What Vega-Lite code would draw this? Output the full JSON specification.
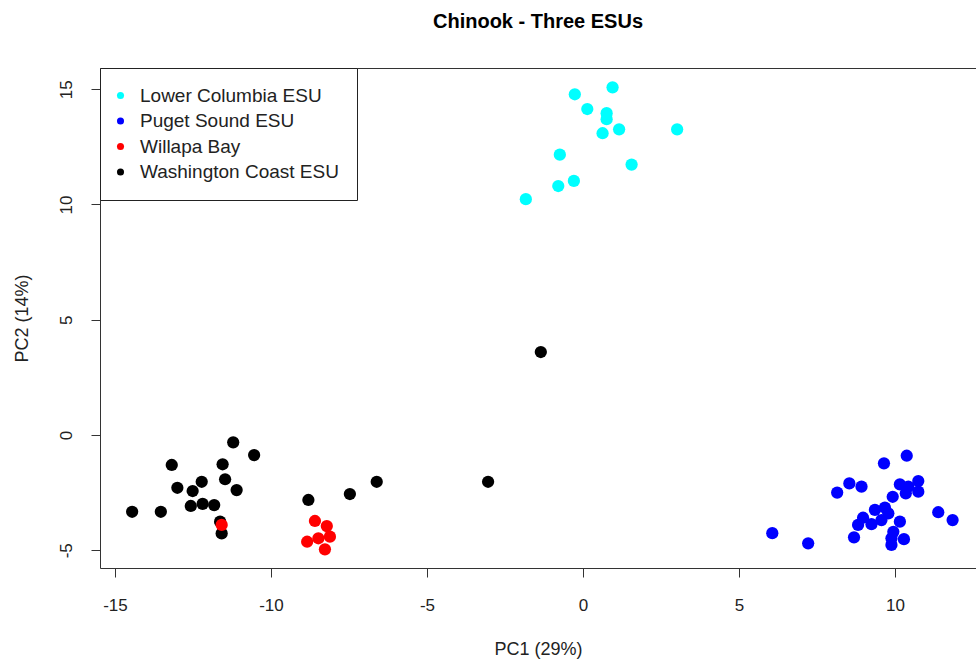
{
  "$schema": "https://vega.github.io/schema/vega-lite/v6.json",
  "autosize": {"type": "none"},
  "width": 876,
  "height": 500,
  "padding": {"left": 100, "top": 68, "right": 0, "bottom": 92},
  "background": "white",
  "config": {
    "view": {"stroke": null},
    "font": "Liberation Sans",
    "axis": {"grid": false, "labelFont": "Liberation Sans", "titleFont": "Liberation Sans", "labelColor": "#222", "titleColor": "#222", "domainColor": "#333", "tickColor": "#333", "titleFontWeight": "normal"}
  },
  "title": {"text": "Chinook - Three ESUs", "fontSize": 20, "fontWeight": "bold", "font": "Liberation Sans", "anchor": "middle", "offset": 36, "color": "#000"},
  "data": {
    "values": [
      {"pc1": -14.45, "pc2": -3.33, "esu": "Washington Coast ESU"},
      {"pc1": -13.53, "pc2": -3.33, "esu": "Washington Coast ESU"},
      {"pc1": -13.18, "pc2": -1.30, "esu": "Washington Coast ESU"},
      {"pc1": -13.00, "pc2": -2.29, "esu": "Washington Coast ESU"},
      {"pc1": -12.57, "pc2": -3.08, "esu": "Washington Coast ESU"},
      {"pc1": -12.51, "pc2": -2.43, "esu": "Washington Coast ESU"},
      {"pc1": -12.22, "pc2": -2.03, "esu": "Washington Coast ESU"},
      {"pc1": -12.19, "pc2": -2.99, "esu": "Washington Coast ESU"},
      {"pc1": -11.82, "pc2": -3.04, "esu": "Washington Coast ESU"},
      {"pc1": -11.55, "pc2": -1.27, "esu": "Washington Coast ESU"},
      {"pc1": -11.47, "pc2": -1.92, "esu": "Washington Coast ESU"},
      {"pc1": -11.21, "pc2": -0.32, "esu": "Washington Coast ESU"},
      {"pc1": -11.10, "pc2": -2.39, "esu": "Washington Coast ESU"},
      {"pc1": -10.54, "pc2": -0.87, "esu": "Washington Coast ESU"},
      {"pc1": -11.63, "pc2": -3.76, "esu": "Washington Coast ESU"},
      {"pc1": -11.58, "pc2": -4.27, "esu": "Washington Coast ESU"},
      {"pc1": -8.80, "pc2": -2.82, "esu": "Washington Coast ESU"},
      {"pc1": -7.47, "pc2": -2.56, "esu": "Washington Coast ESU"},
      {"pc1": -6.61, "pc2": -2.03, "esu": "Washington Coast ESU"},
      {"pc1": -3.04, "pc2": -2.03, "esu": "Washington Coast ESU"},
      {"pc1": -1.35, "pc2": 3.60, "esu": "Washington Coast ESU"},
      {"pc1": -11.58, "pc2": -3.90, "esu": "Willapa Bay"},
      {"pc1": -8.59, "pc2": -3.73, "esu": "Willapa Bay"},
      {"pc1": -8.21, "pc2": -3.95, "esu": "Willapa Bay"},
      {"pc1": -8.11, "pc2": -4.41, "esu": "Willapa Bay"},
      {"pc1": -8.48, "pc2": -4.48, "esu": "Willapa Bay"},
      {"pc1": -8.84, "pc2": -4.63, "esu": "Willapa Bay"},
      {"pc1": -8.27, "pc2": -4.96, "esu": "Willapa Bay"},
      {"pc1": 10.38, "pc2": -0.90, "esu": "Puget Sound ESU"},
      {"pc1": 9.65, "pc2": -1.23, "esu": "Puget Sound ESU"},
      {"pc1": 8.54, "pc2": -2.10, "esu": "Puget Sound ESU"},
      {"pc1": 8.93, "pc2": -2.24, "esu": "Puget Sound ESU"},
      {"pc1": 8.15, "pc2": -2.50, "esu": "Puget Sound ESU"},
      {"pc1": 10.16, "pc2": -2.14, "esu": "Puget Sound ESU"},
      {"pc1": 10.75, "pc2": -2.00, "esu": "Puget Sound ESU"},
      {"pc1": 10.43, "pc2": -2.24, "esu": "Puget Sound ESU"},
      {"pc1": 10.35, "pc2": -2.53, "esu": "Puget Sound ESU"},
      {"pc1": 10.75, "pc2": -2.46, "esu": "Puget Sound ESU"},
      {"pc1": 9.93, "pc2": -2.68, "esu": "Puget Sound ESU"},
      {"pc1": 9.36, "pc2": -3.25, "esu": "Puget Sound ESU"},
      {"pc1": 9.68, "pc2": -3.15, "esu": "Puget Sound ESU"},
      {"pc1": 9.79, "pc2": -3.40, "esu": "Puget Sound ESU"},
      {"pc1": 8.98, "pc2": -3.59, "esu": "Puget Sound ESU"},
      {"pc1": 9.57, "pc2": -3.69, "esu": "Puget Sound ESU"},
      {"pc1": 9.25, "pc2": -3.87, "esu": "Puget Sound ESU"},
      {"pc1": 8.82, "pc2": -3.90, "esu": "Puget Sound ESU"},
      {"pc1": 10.16, "pc2": -3.76, "esu": "Puget Sound ESU"},
      {"pc1": 9.95, "pc2": -4.20, "esu": "Puget Sound ESU"},
      {"pc1": 11.39, "pc2": -3.35, "esu": "Puget Sound ESU"},
      {"pc1": 11.85, "pc2": -3.69, "esu": "Puget Sound ESU"},
      {"pc1": 8.69, "pc2": -4.44, "esu": "Puget Sound ESU"},
      {"pc1": 10.29, "pc2": -4.52, "esu": "Puget Sound ESU"},
      {"pc1": 9.89, "pc2": -4.48, "esu": "Puget Sound ESU"},
      {"pc1": 9.89, "pc2": -4.77, "esu": "Puget Sound ESU"},
      {"pc1": 6.07, "pc2": -4.26, "esu": "Puget Sound ESU"},
      {"pc1": 7.22, "pc2": -4.70, "esu": "Puget Sound ESU"},
      {"pc1": -0.26, "pc2": 14.78, "esu": "Lower Columbia ESU"},
      {"pc1": 0.95, "pc2": 15.08, "esu": "Lower Columbia ESU"},
      {"pc1": 0.14, "pc2": 14.14, "esu": "Lower Columbia ESU"},
      {"pc1": 0.76, "pc2": 13.96, "esu": "Lower Columbia ESU"},
      {"pc1": 0.76, "pc2": 13.70, "esu": "Lower Columbia ESU"},
      {"pc1": 0.63, "pc2": 13.09, "esu": "Lower Columbia ESU"},
      {"pc1": 1.16, "pc2": 13.26, "esu": "Lower Columbia ESU"},
      {"pc1": 3.02, "pc2": 13.26, "esu": "Lower Columbia ESU"},
      {"pc1": -0.74, "pc2": 12.16, "esu": "Lower Columbia ESU"},
      {"pc1": 1.56, "pc2": 11.73, "esu": "Lower Columbia ESU"},
      {"pc1": -0.29, "pc2": 11.02, "esu": "Lower Columbia ESU"},
      {"pc1": -0.79, "pc2": 10.80, "esu": "Lower Columbia ESU"},
      {"pc1": -1.83, "pc2": 10.23, "esu": "Lower Columbia ESU"}
    ]
  },
  "resolve": {"axis": {"x": "independent"}},
  "layer": [
    {
      "mark": {"type": "point", "filled": true, "opacity": 1, "size": 150, "shape": "circle"},
      "encoding": {
        "x": {"field": "pc1", "type": "quantitative",
              "scale": {"domain": [-15.48, 12.6], "nice": false, "zero": false},
              "axis": {"title": "PC1 (29%)", "values": [-15, -10, -5, 0, 5, 10], "labelExpr": "replace(datum.label, '\u2212', '-')", "tickSize": 9, "labelFontSize": 17, "titleFontSize": 18, "labelPadding": 20, "titlePadding": 27, "domain": true, "labelFlush": false}},
        "y": {"field": "pc2", "type": "quantitative",
              "scale": {"domain": [-5.77, 15.92], "nice": false, "zero": false},
              "axis": {"title": "PC2 (14%)", "values": [-5, 0, 5, 10, 15], "labelExpr": "replace(datum.label, '\u2212', '-')", "tickSize": 9, "labelAngle": -90, "labelAlign": "center", "labelBaseline": "bottom", "labelFontSize": 17, "titleFontSize": 18, "labelPadding": 16, "titlePadding": 26, "domain": true, "labelFlush": false}},
        "color": {"field": "esu", "type": "nominal",
                  "scale": {"domain": ["Lower Columbia ESU", "Puget Sound ESU", "Willapa Bay", "Washington Coast ESU"], "range": ["#00FFFF", "#0000FF", "#FF0000", "#000000"]},
                  "legend": {"title": null, "orient": "none", "legendX": 0, "legendY": 0, "strokeColor": "#222", "fillColor": "white", "padding": 18, "symbolType": "circle", "symbolSize": 50, "symbolOffset": -7, "labelFontSize": 19, "labelFont": "Liberation Sans", "labelColor": "#222", "labelOffset": 10, "labelLimit": 400, "rowPadding": 5.5, "cornerRadius": 0}}
      }
    },
    {
      "mark": {"type": "point", "opacity": 0},
      "encoding": {
        "x": {"field": "pc1", "type": "quantitative",
              "axis": {"orient": "top", "labels": false, "ticks": false, "title": null, "domain": true}}
      }
    }
  ]
}
